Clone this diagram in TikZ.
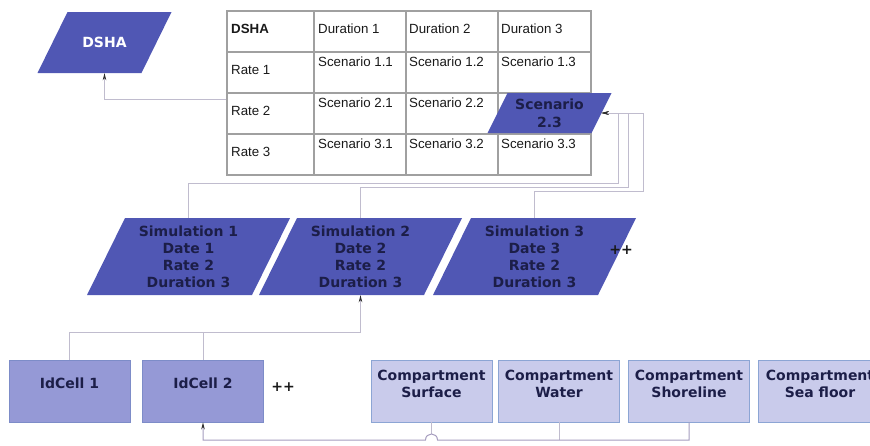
\documentclass[tikz,border=0pt]{standalone}
\usepackage{fontspec}
\setmainfont{Liberation Sans}
\newfontfamily\vfont{DejaVu Sans}
\usetikzlibrary{calc,arrows.meta}
\definecolor{darkp}{RGB}{80,87,180}
\definecolor{midp}{RGB}{149,153,214}
\definecolor{midb}{RGB}{125,140,200}
\definecolor{lightp}{RGB}{201,203,235}
\definecolor{lightb}{RGB}{140,165,212}
\definecolor{navy}{RGB}{28,30,72}
\definecolor{gridc}{RGB}{160,160,160}
\definecolor{connc}{RGB}{192,188,206}
\definecolor{connd}{RGB}{165,156,190}
\definecolor{arrc}{RGB}{45,45,45}
\newcommand\mypara[6]{%
  \fill[#6] ({#1-#3/2+#4/2},{#2-#5/2}) -- ({#1+#3/2+#4/2},{#2-#5/2}) --
  ({#1+#3/2-#4/2},{#2+#5/2}) -- ({#1-#3/2-#4/2},{#2+#5/2}) -- cycle;}
\begin{document}
\begin{tikzpicture}[x=1pt,y=-1pt,
  lbl/.style={font=\vfont\bfseries\fontsize{14}{17}\selectfont, text=navy, align=center, inner sep=0pt},
  cell/.style={font=\fontsize{13.3}{15}\selectfont, anchor=west, inner sep=0pt, text=black!90},
  conn/.style={draw=connc, line width=0.9pt},
  connb/.style={draw=connd, line width=1pt},
  arr/.style={-{Stealth[length=7pt,width=3.5pt,color=arrc]}},
  idbox/.style={draw=midb, fill=midp, line width=0.8pt, minimum width=121, minimum height=62, inner sep=0pt},
  cbox/.style={draw=lightb, fill=lightp, line width=0.8pt, minimum width=121, minimum height=62, inner sep=0pt},
  pl/.style={fill=darkp}
]
\useasboundingbox (0,0) rectangle (870,445);
\clip (0,0) rectangle (870,445);

% table
\node[draw=gridc, line width=1.2pt, minimum width=364, minimum height=164, inner sep=0pt] (tbl) at (409,93) {};
\foreach \xx in {314,406,498} \draw[gridc, line width=1.2pt] (\xx,11) -- (\xx,175);
\foreach \yy in {52,93,134} \draw[gridc, line width=1.2pt] (227,\yy) -- (591,\yy);
\node[cell, font=\bfseries\fontsize{13.3}{15}\selectfont] (t00) at (231,29) {DSHA};
\node[cell] (t01) at (318,29) {Duration 1};
\node[cell] (t02) at (409,29) {Duration 2};
\node[cell] (t03) at (501,29) {Duration 3};
\node[cell] (t10) at (231,70) {Rate 1};
\node[cell] (t11) at (318,62) {Scenario 1.1};
\node[cell] (t12) at (409,62) {Scenario 1.2};
\node[cell] (t13) at (501,62) {Scenario 1.3};
\node[cell] (t20) at (231,111) {Rate 2};
\node[cell] (t21) at (318,103) {Scenario 2.1};
\node[cell] (t22) at (409,103) {Scenario 2.2};
\node[cell] (t30) at (231,152) {Rate 3};
\node[cell] (t31) at (318,144) {Scenario 3.1};
\node[cell] (t32) at (409,144) {Scenario 3.2};
\node[cell] (t33) at (501,144) {Scenario 3.3};

% parallelograms
\mypara{104.5}{42.5}{104}{30}{61}{pl}
\node[lbl, text=white, minimum width=104, minimum height=61] (dsha) at (104.5,42.5) {DSHA};
\mypara{549.5}{113}{104}{20}{40}{pl}
\node[lbl, font=\vfont\bfseries\fontsize{14}{18}\selectfont, minimum width=104, minimum height=40] (sc) at (549.5,113) {Scenario\\2.3};
\mypara{188.5}{256.5}{165}{38}{77}{pl}
\node[lbl, minimum width=165, minimum height=77] (sim1) at (188.5,256.5) {Simulation 1\\Date 1\\Rate 2\\Duration 3};
\mypara{360.5}{256.5}{165}{38}{77}{pl}
\node[lbl, minimum width=165, minimum height=77] (sim2) at (360.5,256.5) {Simulation 2\\Date 2\\Rate 2\\Duration 3};
\mypara{534.5}{256.5}{165}{38}{77}{pl}
\node[lbl, minimum width=165, minimum height=77] (sim3) at (534.5,256.5) {Simulation 3\\Date 3\\Rate 2\\Duration 3};
\node[lbl, text=black!90] (pp1) at (621,250) {++};

% boxes
\node[idbox] (idc1) at (69.5,391) {};
\node[idbox] (idc2) at (203,391) {};
\node[cbox] (surf) at (431.5,391) {};
\node[cbox] (water) at (559,391) {};
\node[cbox] (shore) at (689,391) {};
\node[cbox] (sea) at (819,391) {};
\node[lbl] (idc1t) at (69.5,383) {IdCell 1};
\node[lbl] (idc2t) at (203,383) {IdCell 2};
\node[lbl] (surft) at (431.5,383.5) {Compartment\\Surface};
\node[lbl] (watert) at (559,383.5) {Compartment\\Water};
\node[lbl] (shoret) at (689,383.5) {Compartment\\Shoreline};
\node[lbl] (seat) at (820,383.5) {Compartment\\Sea floor};
\node[lbl, text=black!90] (pp2) at (283,387) {++};

% connectors
\coordinate (tblL) at ($(tbl.west)+(0,6)$);
\draw[conn, arr] (tblL) -| (dsha.south);
\draw[conn, arr] (sim3.north) -- ++(0,-26) -| (643,113) -- (sc.east);
\draw[conn, arr] (sim2.north) -- ++(0,-30) -| (628,113) -- (sc.east);
\draw[conn, arr] (sim1.north) -- ++(0,-34) -| (618,113) -- (sc.east);
\draw[conn] (idc2.north) -- ++(0,-27);
\draw[conn, arr] (idc1.north) -- ++(0,-27) -| (sim2.south);
\draw[conn] (surf.south) -- (surf.south |- 0,434);
\draw[conn] (water.south) -- (water.south |- 0,440);
\draw[connb, arr] (shore.south) |- (437.5,440) .. controls (437.5,432) and (425.5,432) .. (425.5,440) -| (idc2.south);
\end{tikzpicture}
\end{document}
